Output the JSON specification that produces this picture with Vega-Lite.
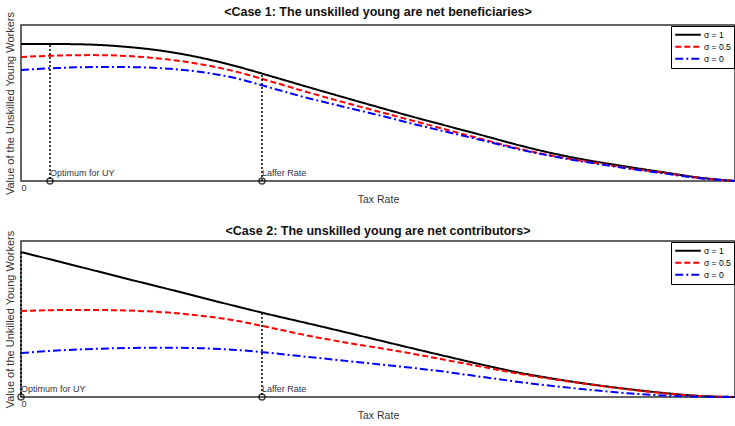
{
  "$schema": "https://vega.github.io/schema/vega-lite/v6.json",
  "padding": {"left": 3, "top": 5, "right": 0, "bottom": 0},
  "background": "white",
  "bounds": "flush",
  "config": {
    "font": "Liberation Sans",
    "view": {"stroke": "#333333", "strokeWidth": 1.5},
    "title": {"fontSize": 12.5, "fontWeight": "bold", "color": "#111111", "anchor": "middle", "offset": -7},
    "axis": {"grid": false, "ticks": false, "domain": false, "titleFontWeight": "normal", "titleColor": "#333333", "labelColor": "#333333"}
  },
  "datasets": {
    "curves1": [
      {"t": 0, "s": "σ = 1", "v": 0.878}, {"t": 0.05, "s": "σ = 1", "v": 0.878}, {"t": 0.1, "s": "σ = 1", "v": 0.874}, {"t": 0.15, "s": "σ = 1", "v": 0.859}, {"t": 0.2, "s": "σ = 1", "v": 0.833}, {"t": 0.25, "s": "σ = 1", "v": 0.792}, {"t": 0.3, "s": "σ = 1", "v": 0.737}, {"t": 0.35, "s": "σ = 1", "v": 0.672}, {"t": 0.4, "s": "σ = 1", "v": 0.605}, {"t": 0.45, "s": "σ = 1", "v": 0.539}, {"t": 0.5, "s": "σ = 1", "v": 0.474}, {"t": 0.55, "s": "σ = 1", "v": 0.41}, {"t": 0.6, "s": "σ = 1", "v": 0.349}, {"t": 0.65, "s": "σ = 1", "v": 0.288}, {"t": 0.7, "s": "σ = 1", "v": 0.226}, {"t": 0.75, "s": "σ = 1", "v": 0.172}, {"t": 0.8, "s": "σ = 1", "v": 0.128}, {"t": 0.85, "s": "σ = 1", "v": 0.091}, {"t": 0.9, "s": "σ = 1", "v": 0.056}, {"t": 0.95, "s": "σ = 1", "v": 0.022}, {"t": 1, "s": "σ = 1", "v": 0},
      {"t": 0, "s": "σ = 0.5", "v": 0.795}, {"t": 0.05, "s": "σ = 0.5", "v": 0.804}, {"t": 0.1, "s": "σ = 0.5", "v": 0.807}, {"t": 0.15, "s": "σ = 0.5", "v": 0.801}, {"t": 0.2, "s": "σ = 0.5", "v": 0.782}, {"t": 0.25, "s": "σ = 0.5", "v": 0.75}, {"t": 0.3, "s": "σ = 0.5", "v": 0.702}, {"t": 0.35, "s": "σ = 0.5", "v": 0.638}, {"t": 0.4, "s": "σ = 0.5", "v": 0.571}, {"t": 0.45, "s": "σ = 0.5", "v": 0.507}, {"t": 0.5, "s": "σ = 0.5", "v": 0.446}, {"t": 0.55, "s": "σ = 0.5", "v": 0.385}, {"t": 0.6, "s": "σ = 0.5", "v": 0.324}, {"t": 0.65, "s": "σ = 0.5", "v": 0.263}, {"t": 0.7, "s": "σ = 0.5", "v": 0.204}, {"t": 0.75, "s": "σ = 0.5", "v": 0.157}, {"t": 0.8, "s": "σ = 0.5", "v": 0.119}, {"t": 0.85, "s": "σ = 0.5", "v": 0.083}, {"t": 0.9, "s": "σ = 0.5", "v": 0.052}, {"t": 0.95, "s": "σ = 0.5", "v": 0.019}, {"t": 1, "s": "σ = 0.5", "v": 0},
      {"t": 0, "s": "σ = 0", "v": 0.712}, {"t": 0.05, "s": "σ = 0", "v": 0.724}, {"t": 0.1, "s": "σ = 0", "v": 0.73}, {"t": 0.15, "s": "σ = 0", "v": 0.73}, {"t": 0.2, "s": "σ = 0", "v": 0.722}, {"t": 0.25, "s": "σ = 0", "v": 0.7}, {"t": 0.3, "s": "σ = 0", "v": 0.66}, {"t": 0.35, "s": "σ = 0", "v": 0.597}, {"t": 0.4, "s": "σ = 0", "v": 0.534}, {"t": 0.45, "s": "σ = 0", "v": 0.478}, {"t": 0.5, "s": "σ = 0", "v": 0.423}, {"t": 0.55, "s": "σ = 0", "v": 0.365}, {"t": 0.6, "s": "σ = 0", "v": 0.311}, {"t": 0.65, "s": "σ = 0", "v": 0.256}, {"t": 0.7, "s": "σ = 0", "v": 0.2}, {"t": 0.75, "s": "σ = 0", "v": 0.154}, {"t": 0.8, "s": "σ = 0", "v": 0.115}, {"t": 0.85, "s": "σ = 0", "v": 0.08}, {"t": 0.9, "s": "σ = 0", "v": 0.049}, {"t": 0.95, "s": "σ = 0", "v": 0.018}, {"t": 1, "s": "σ = 0", "v": 0}
    ],
    "curves2": [
      {"t": 0, "s": "σ = 1", "v": 0.929}, {"t": 0.05, "s": "σ = 1", "v": 0.872}, {"t": 0.1, "s": "σ = 1", "v": 0.814}, {"t": 0.15, "s": "σ = 1", "v": 0.756}, {"t": 0.2, "s": "σ = 1", "v": 0.699}, {"t": 0.25, "s": "σ = 1", "v": 0.641}, {"t": 0.3, "s": "σ = 1", "v": 0.583}, {"t": 0.35, "s": "σ = 1", "v": 0.527}, {"t": 0.4, "s": "σ = 1", "v": 0.474}, {"t": 0.45, "s": "σ = 1", "v": 0.42}, {"t": 0.5, "s": "σ = 1", "v": 0.365}, {"t": 0.55, "s": "σ = 1", "v": 0.31}, {"t": 0.6, "s": "σ = 1", "v": 0.256}, {"t": 0.65, "s": "σ = 1", "v": 0.203}, {"t": 0.7, "s": "σ = 1", "v": 0.154}, {"t": 0.75, "s": "σ = 1", "v": 0.114}, {"t": 0.8, "s": "σ = 1", "v": 0.08}, {"t": 0.85, "s": "σ = 1", "v": 0.051}, {"t": 0.9, "s": "σ = 1", "v": 0.026}, {"t": 0.95, "s": "σ = 1", "v": 0.007}, {"t": 1, "s": "σ = 1", "v": 0},
      {"t": 0, "s": "σ = 0.5", "v": 0.551}, {"t": 0.05, "s": "σ = 0.5", "v": 0.557}, {"t": 0.1, "s": "σ = 0.5", "v": 0.558}, {"t": 0.15, "s": "σ = 0.5", "v": 0.554}, {"t": 0.2, "s": "σ = 0.5", "v": 0.543}, {"t": 0.25, "s": "σ = 0.5", "v": 0.522}, {"t": 0.3, "s": "σ = 0.5", "v": 0.49}, {"t": 0.35, "s": "σ = 0.5", "v": 0.444}, {"t": 0.4, "s": "σ = 0.5", "v": 0.395}, {"t": 0.45, "s": "σ = 0.5", "v": 0.353}, {"t": 0.5, "s": "σ = 0.5", "v": 0.315}, {"t": 0.55, "s": "σ = 0.5", "v": 0.276}, {"t": 0.6, "s": "σ = 0.5", "v": 0.233}, {"t": 0.65, "s": "σ = 0.5", "v": 0.19}, {"t": 0.7, "s": "σ = 0.5", "v": 0.147}, {"t": 0.75, "s": "σ = 0.5", "v": 0.111}, {"t": 0.8, "s": "σ = 0.5", "v": 0.078}, {"t": 0.85, "s": "σ = 0.5", "v": 0.049}, {"t": 0.9, "s": "σ = 0.5", "v": 0.024}, {"t": 0.95, "s": "σ = 0.5", "v": 0.006}, {"t": 1, "s": "σ = 0.5", "v": 0},
      {"t": 0, "s": "σ = 0", "v": 0.282}, {"t": 0.05, "s": "σ = 0", "v": 0.298}, {"t": 0.1, "s": "σ = 0", "v": 0.308}, {"t": 0.15, "s": "σ = 0", "v": 0.314}, {"t": 0.2, "s": "σ = 0", "v": 0.316}, {"t": 0.25, "s": "σ = 0", "v": 0.313}, {"t": 0.3, "s": "σ = 0", "v": 0.302}, {"t": 0.35, "s": "σ = 0", "v": 0.282}, {"t": 0.4, "s": "σ = 0", "v": 0.258}, {"t": 0.45, "s": "σ = 0", "v": 0.234}, {"t": 0.5, "s": "σ = 0", "v": 0.21}, {"t": 0.55, "s": "σ = 0", "v": 0.186}, {"t": 0.6, "s": "σ = 0", "v": 0.158}, {"t": 0.65, "s": "σ = 0", "v": 0.126}, {"t": 0.7, "s": "σ = 0", "v": 0.095}, {"t": 0.75, "s": "σ = 0", "v": 0.068}, {"t": 0.8, "s": "σ = 0", "v": 0.045}, {"t": 0.85, "s": "σ = 0", "v": 0.024}, {"t": 0.9, "s": "σ = 0", "v": 0.01}, {"t": 0.95, "s": "σ = 0", "v": 0.002}, {"t": 1, "s": "σ = 0", "v": 0}
    ],
    "marks1": [
      {"t": 0.0406, "v": 0.872, "label": "Optimum for UY"},
      {"t": 0.3375, "v": 0.68, "label": "Laffer Rate"}
    ],
    "marks2": [
      {"t": 0, "v": 0.929, "label": "Optimum for UY"},
      {"t": 0.3375, "v": 0.538, "label": "Laffer Rate"}
    ]
  },
  "vconcat": [
    {
      "title": "<Case 1: The unskilled young are net beneficiaries>",
      "width": 714,
      "height": 156,
      "layer": [
        {
          "data": {"name": "curves1"},
          "mark": {"type": "line", "strokeWidth": 2, "interpolate": "monotone"},
          "encoding": {
            "x": {"field": "t", "type": "quantitative", "scale": {"domain": [0, 1], "nice": false}, "axis": {"title": "Tax Rate", "titleFontSize": 10.5, "values": [0], "format": "d", "labelFontSize": 9, "labelPadding": 2, "titlePadding": 2}},
            "y": {"field": "v", "type": "quantitative", "scale": {"domain": [0, 1], "nice": false}, "axis": {"title": "Value of the Unskilled Young Workers", "titleFontSize": 11, "labels": false, "titlePadding": 6}},
            "color": {"field": "s", "type": "nominal", "scale": {"domain": ["σ = 1", "σ = 0.5", "σ = 0"], "range": ["#000000", "#ff0000", "#0000ff"]}, "legend": {"title": null, "orient": "top-right", "offset": 1, "strokeColor": "#000000", "fillColor": "#ffffff", "padding": 3, "labelFontSize": 8.5, "symbolType": "stroke", "symbolSize": 650, "symbolStrokeWidth": 2, "clipHeight": 11.5, "rowPadding": 0, "labelOffset": 2}},
            "strokeDash": {"field": "s", "type": "nominal", "scale": {"domain": ["σ = 1", "σ = 0.5", "σ = 0"], "range": [[1, 0], [6, 3], [8, 3, 2, 3]]}, "legend": {"title": null}}
          }
        },
        {
          "data": {"name": "marks1"},
          "mark": {"type": "rule", "strokeDash": [2, 2], "strokeWidth": 1.5, "color": "#000000"},
          "encoding": {"x": {"field": "t", "type": "quantitative"}, "y": {"field": "v", "type": "quantitative"}, "y2": {"datum": 0}}
        },
        {
          "data": {"name": "marks1"},
          "mark": {"type": "point", "shape": "circle", "filled": false, "size": 36, "strokeWidth": 1.5, "color": "#000000"},
          "encoding": {"x": {"field": "t", "type": "quantitative"}, "y": {"datum": 0}}
        },
        {
          "data": {"name": "marks1"},
          "mark": {"type": "text", "align": "left", "baseline": "bottom", "dx": 0, "dy": -3, "fontSize": 9, "color": "#333344"},
          "encoding": {"x": {"field": "t", "type": "quantitative"}, "y": {"datum": 0}, "text": {"field": "label"}}
        }
      ]
    },
    {
      "title": "<Case 2: The unskilled young are net contributors>",
      "width": 714,
      "height": 156,
      "layer": [
        {
          "data": {"name": "curves2"},
          "mark": {"type": "line", "strokeWidth": 2, "interpolate": "monotone"},
          "encoding": {
            "x": {"field": "t", "type": "quantitative", "scale": {"domain": [0, 1], "nice": false}, "axis": {"title": "Tax Rate", "titleFontSize": 10.5, "values": [0], "format": "d", "labelFontSize": 9, "labelPadding": 2, "titlePadding": 2}},
            "y": {"field": "v", "type": "quantitative", "scale": {"domain": [0, 1], "nice": false}, "axis": {"title": "Value of the Unkilled Young Workers", "titleFontSize": 11, "labels": false, "titlePadding": 6}},
            "color": {"field": "s", "type": "nominal", "scale": {"domain": ["σ = 1", "σ = 0.5", "σ = 0"], "range": ["#000000", "#ff0000", "#0000ff"]}, "legend": {"title": null, "orient": "top-right", "offset": 1, "strokeColor": "#000000", "fillColor": "#ffffff", "padding": 3, "labelFontSize": 8.5, "symbolType": "stroke", "symbolSize": 650, "symbolStrokeWidth": 2, "clipHeight": 11.5, "rowPadding": 0, "labelOffset": 2}},
            "strokeDash": {"field": "s", "type": "nominal", "scale": {"domain": ["σ = 1", "σ = 0.5", "σ = 0"], "range": [[1, 0], [6, 3], [8, 3, 2, 3]]}, "legend": {"title": null}}
          }
        },
        {
          "data": {"name": "marks2"},
          "mark": {"type": "rule", "strokeDash": [2, 2], "strokeWidth": 1.5, "color": "#000000"},
          "encoding": {"x": {"field": "t", "type": "quantitative"}, "y": {"field": "v", "type": "quantitative"}, "y2": {"datum": 0}}
        },
        {
          "data": {"name": "marks2"},
          "mark": {"type": "point", "shape": "circle", "filled": false, "size": 36, "strokeWidth": 1.5, "color": "#000000"},
          "encoding": {"x": {"field": "t", "type": "quantitative"}, "y": {"datum": 0}}
        },
        {
          "data": {"name": "marks2"},
          "mark": {"type": "text", "align": "left", "baseline": "bottom", "dx": 0, "dy": -3, "fontSize": 9, "color": "#333344"},
          "encoding": {"x": {"field": "t", "type": "quantitative"}, "y": {"datum": 0}, "text": {"field": "label"}}
        }
      ]
    }
  ],
  "resolve": {"scale": {"color": "independent", "strokeDash": "independent"}},
  "spacing": 60
}
